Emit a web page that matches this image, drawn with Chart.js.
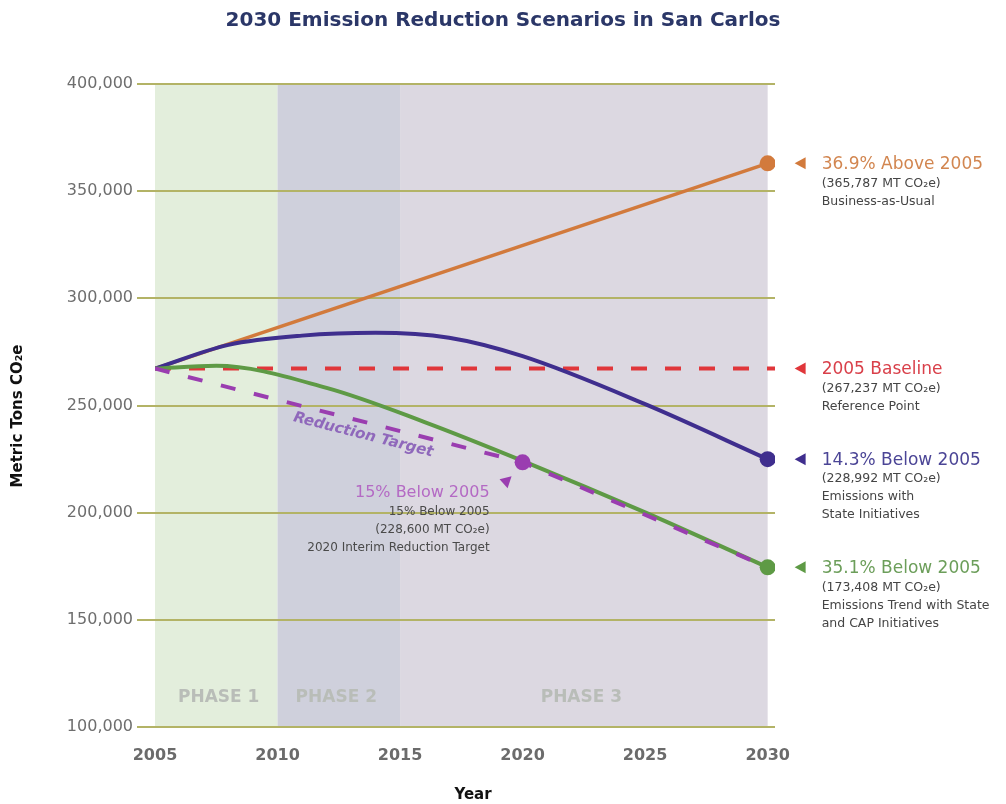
<!DOCTYPE html>
<html><head><meta charset="utf-8">
<script src="https://cdn.jsdelivr.net/npm/chart.js@4.4.1/dist/chart.umd.min.js"></script>
<style>html,body{margin:0;padding:0;background:#fff;}canvas{display:block;}</style>
</head><body>
<canvas id="c" width="1006" height="804"></canvas>
<script>
// ---- data ----
const chartTitle = '2030 Emission Reduction Scenarios in San Carlos';
const xAxisTitle = 'Year';
const yAxisTitle = 'Metric Tons CO₂e';
const yearTicks = [2005, 2010, 2015, 2020, 2025, 2030];
const bauYears = [2005, 2030];
const bauValues = [267237, 363000];
const baselineYears = [2005, 2030.3];
const baselineValues = [267237, 267237];
const stateYears = [2005, 2008, 2011, 2014, 2017, 2020, 2025, 2030];
const stateValues = [267237, 278300, 282600, 283900, 281600, 273000, 250600, 224950];
const capYears = [2005, 2007.5, 2012, 2016, 2020, 2025, 2030];
const capValues = [267237, 268500, 258200, 242300, 224200, 200100, 174500];
const targetYears = [2005, 2020, 2030];
const targetValues = [267237, 223500, 174500];

const phaseStarts = [2005, 2010, 2015];
const phaseEnds = [2010, 2015, 2030];
const phaseNames = ['PHASE 1', 'PHASE 2', 'PHASE 3'];
const phaseLabelYears = [2007.6, 2012.4, 2022.4];
const phaseLabelValue = 113500;

const calloutHeads = ['36.9% Above 2005', '2005 Baseline', '14.3% Below 2005', '35.1% Below 2005'];
const calloutLines = [
  ['(365,787 MT CO₂e)', 'Business-as-Usual'],
  ['(267,237 MT CO₂e)', 'Reference Point'],
  ['(228,992 MT CO₂e)', 'Emissions with', 'State Initiatives'],
  ['(173,408 MT CO₂e)', 'Emissions Trend with State', 'and CAP Initiatives']
];
const interimHead = '15% Below 2005';
const interimLines = ['15% Below 2005', '(228,600 MT CO₂e)', '2020 Interim Reduction Target'];
const targetLabel = 'Reduction Target';

// ---- styles ----
const C = {
  bau: '#d27a3c', base: '#e0363a', state: '#3f2e8e', cap: '#5e9a45', target: '#9a3db0',
  bauText: '#d28650', baseText: '#d9404a', stateText: '#4b4596', capText: '#6c9e5a', targetText: '#b46ac4'
};
const phaseColors = ['#e3eedc', '#cfd0dc', '#dcd8e1'];
const FONT = "'DejaVu Sans', sans-serif";

const pts = (xs, ys) => xs.map((x, i) => ({x, y: ys[i]}));
const lastOnly = n => (ctx) => ctx.dataIndex === n ? 8 : 0;

const decor = {
  id: 'decor',
  beforeDraw(chart) {
    const {ctx, scales: {x, y}} = chart;
    const top = y.getPixelForValue(400000), bottom = y.getPixelForValue(100000);
    ctx.save();
    phaseStarts.forEach((s, i) => {
      const x0 = x.getPixelForValue(s), x1 = x.getPixelForValue(phaseEnds[i]);
      ctx.fillStyle = phaseColors[i];
      ctx.fillRect(x0, top, x1 - x0, bottom - top);
    });
    ctx.restore();
  },
  beforeDatasetsDraw(chart) {
    const {ctx, scales: {x, y}} = chart;
    ctx.save();
    ctx.font = 'bold 17px ' + FONT;
    ctx.fillStyle = '#b9bdb8';
    ctx.textAlign = 'center';
    ctx.textBaseline = 'middle';
    phaseNames.forEach((n, i) => ctx.fillText(n, x.getPixelForValue(phaseLabelYears[i]), y.getPixelForValue(phaseLabelValue)));
    ctx.restore();
  },
  afterDatasetsDraw(chart) {
    const {ctx, scales: {x, y}} = chart;
    ctx.save();
    // titles
    ctx.textAlign = 'center';
    ctx.textBaseline = 'middle';
    ctx.font = 'bold 20px ' + FONT;
    ctx.fillStyle = '#2b3768';
    ctx.fillText(chartTitle, chart.width / 2, 21);
    ctx.font = 'bold 15px ' + FONT;
    ctx.fillStyle = '#111';
    ctx.fillText(xAxisTitle, 473, 795);
    ctx.save();
    ctx.translate(18, 416);
    ctx.rotate(-Math.PI / 2);
    ctx.fillText(yAxisTitle, 0, 0);
    ctx.restore();
    // right callouts
    const anchors = [bauValues[bauValues.length - 1], baselineValues[0], stateValues[stateValues.length - 1], capValues[capValues.length - 1]];
    const heads = [C.bauText, C.baseText, C.stateText, C.capText];
    const tris = [C.bau, C.base, C.state, C.cap];
    const xr = x.getPixelForValue(2030);
    anchors.forEach((v, i) => {
      const py = y.getPixelForValue(v);
      ctx.fillStyle = tris[i];
      ctx.beginPath();
      ctx.moveTo(xr + 27, py);
      ctx.lineTo(xr + 38, py - 6);
      ctx.lineTo(xr + 38, py + 6);
      ctx.closePath();
      ctx.fill();
      ctx.textAlign = 'left';
      ctx.textBaseline = 'middle';
      ctx.font = '17px ' + FONT;
      ctx.fillStyle = heads[i];
      ctx.fillText(calloutHeads[i], xr + 54, py + 1);
      ctx.font = '12.5px ' + FONT;
      ctx.fillStyle = '#454545';
      calloutLines[i].forEach((t, j) => ctx.fillText(t, xr + 54, py + 20 + j * 18));
    });
    // interim callout
    const mx = x.getPixelForValue(targetYears[1]), my = y.getPixelForValue(targetValues[1]);
    ctx.fillStyle = C.target;
    ctx.beginPath();
    ctx.moveTo(mx - 23, my + 17);
    ctx.lineTo(mx - 11, my + 14);
    ctx.lineTo(mx - 15, my + 26);
    ctx.closePath();
    ctx.fill();
    ctx.textAlign = 'right';
    ctx.font = '16px ' + FONT;
    ctx.fillStyle = C.targetText;
    ctx.fillText(interimHead, mx - 33, my + 31);
    ctx.font = '12px ' + FONT;
    ctx.fillStyle = '#4a4a4a';
    interimLines.forEach((t, j) => ctx.fillText(t, mx - 33, my + 50 + j * 18));
    // rotated target label
    const x0 = x.getPixelForValue(targetYears[0]), y0 = y.getPixelForValue(targetValues[0]);
    const ang = Math.atan2(my - y0, mx - x0);
    ctx.translate(x.getPixelForValue(2013.5), y.getPixelForValue(236200));
    ctx.rotate(ang);
    ctx.textAlign = 'center';
    ctx.font = 'italic bold 15px ' + FONT;
    ctx.fillStyle = '#8f68bb';
    ctx.fillText(targetLabel, 0, 0);
    ctx.restore();
  }
};

new Chart(document.getElementById('c'), {
  type: 'line',
  data: {
    datasets: [
      {label: 'Reduction Target', data: pts(targetYears, targetValues), borderColor: C.target, backgroundColor: C.target,
        borderWidth: 4, borderDash: [15, 19], tension: 0, pointRadius: (c) => c.dataIndex === 1 ? 8 : 0, pointBorderWidth: 0},
      {label: 'State + CAP', data: pts(capYears, capValues), borderColor: C.cap, backgroundColor: C.cap,
        borderWidth: 4, cubicInterpolationMode: 'monotone', pointRadius: lastOnly(capYears.length - 1), pointBorderWidth: 0},
      {label: 'State', data: pts(stateYears, stateValues), borderColor: C.state, backgroundColor: C.state,
        borderWidth: 4, cubicInterpolationMode: 'monotone', pointRadius: lastOnly(stateYears.length - 1), pointBorderWidth: 0},
      {label: 'BAU', data: pts(bauYears, bauValues), borderColor: C.bau, backgroundColor: C.bau,
        borderWidth: 3.5, tension: 0, pointRadius: lastOnly(bauYears.length - 1), pointBorderWidth: 0},
      {label: 'Baseline', data: pts(baselineYears, baselineValues), borderColor: C.base, backgroundColor: C.base,
        borderWidth: 4, borderDash: [16, 18], tension: 0, pointRadius: 0}
    ]
  },
  options: {
    responsive: false,
    animation: false,
    devicePixelRatio: 1,
    layout: {padding: {left: 0, right: 231, top: 84, bottom: 0}},
    plugins: {
      legend: {display: false},
      tooltip: {enabled: false},
      title: {display: false}
    },
    scales: {
      x: {
        type: 'linear', min: 2005, max: 2030.3,
        afterBuildTicks: (s) => { s.ticks = yearTicks.map(v => ({value: v})); },
        afterFit: (s) => { s.height = 77; },
        grid: {display: false, drawTicks: false},
        border: {display: false},
        ticks: {padding: 19, color: '#6b6b6b', font: {family: "'DejaVu Sans', sans-serif", size: 16, weight: 'bold'},
          callback: (v) => String(v), maxRotation: 0},
        title: {display: false}
      },
      y: {
        min: 100000, max: 400000,
        afterFit: (s) => { s.width = 155; },
        grid: {color: '#b3b366', lineWidth: 2, tickLength: 18, tickColor: '#b3b366'},
        border: {display: false},
        ticks: {stepSize: 50000, padding: 4, color: '#6e6e6e', font: {family: "'DejaVu Sans', sans-serif", size: 16},
          callback: (v) => v.toLocaleString('en-US')},
        title: {display: false}
      }
    }
  },
  plugins: [decor]
});
</script>
</body></html>
